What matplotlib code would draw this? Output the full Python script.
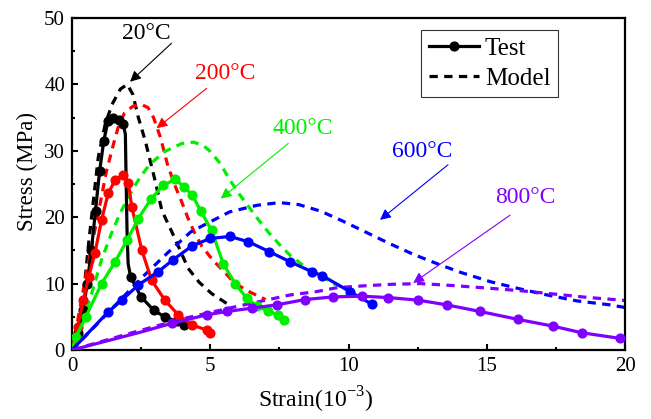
import matplotlib
matplotlib.use("Agg")
import matplotlib.pyplot as plt
from matplotlib.lines import Line2D
from matplotlib.ticker import MultipleLocator

plt.rcParams['font.family'] = ['Liberation Serif', 'DejaVu Serif']
plt.rcParams['mathtext.fontset'] = 'custom'
plt.rcParams['mathtext.rm'] = 'Liberation Serif'

# ---------------- data ----------------
eps_20_t = [0, 0.2, 0.4, 0.55, 0.7, 0.85, 1.0, 1.15, 1.3, 1.5, 1.7, 1.85, 1.93, 1.96, 1.99, 2.03, 2.12, 2.5, 2.95, 3.35, 3.8, 4.05]
sig_20_t = [0, 2.5, 6, 10, 15, 21, 27, 31.5, 34.5, 35, 34.6, 34.0, 32.5, 25, 18, 13, 11, 8, 6, 5, 4.3, 3.8]
eps_20_m = [0, 0.2, 0.35, 0.6, 0.8, 0.95, 1.2, 1.45, 1.75, 2.0, 2.2, 2.4, 2.65, 3.0, 3.25, 3.7, 4.2, 4.6, 5.05, 5.6]
sig_20_m = [0, 2.5, 5.5, 16, 23.5, 29, 34, 37, 39.3, 40, 38.5, 35, 31.5, 25.6, 21, 17, 12.3, 10.2, 8.5, 7.0]

eps_200_t = [0, 0.2, 0.41, 0.6, 0.83, 1.07, 1.31, 1.56, 1.86, 2.04, 2.16, 2.52, 2.88, 3.36, 3.84, 4.33, 4.87, 5.0]
sig_200_t = [0, 3.5, 7.5, 11, 14.6, 19.6, 23.6, 25.6, 26.4, 25.1, 21.6, 15.1, 10.5, 7.5, 5.3, 3.8, 3.0, 2.5]
eps_200_m = [0, 0.23, 0.47, 0.71, 0.95, 1.25, 1.5, 1.7, 1.9, 2.2, 2.5, 2.75, 2.95, 3.2, 3.45, 3.7, 3.95, 4.2, 4.45, 4.7, 5.1, 5.5, 5.9, 6.45, 7.0]
sig_200_m = [0, 5, 10.5, 15.6, 20.6, 27, 31, 34, 35.7, 36.7, 37, 36.5, 35, 32, 28, 25, 22.5, 19.8, 17.5, 15.6, 13.5, 11.8, 10, 8.7, 7.6]

eps_400_t = [0, 0.15, 0.5, 1.07, 1.56, 2.0, 2.4, 2.85, 3.3, 3.73, 4.05, 4.35, 4.65, 5.05, 5.47, 5.9, 6.32, 6.7, 7.1, 7.45, 7.65]
sig_400_t = [0, 2, 5, 10, 13.3, 16.6, 19.8, 22.7, 24.8, 25.7, 24.6, 23.3, 21, 18, 13, 10, 7.8, 6.6, 5.8, 5.3, 4.5]
eps_400_m = [0, 0.35, 0.71, 1.07, 1.43, 1.74, 2.1, 2.46, 2.82, 3.36, 3.97, 4.4, 4.75, 5.0, 5.36, 5.71, 6.08, 6.44, 6.8, 7.13, 7.52, 7.88, 8.37, 8.9, 9.45, 10.05, 10.66]
sig_400_m = [0, 4.0, 8.5, 13.6, 17.6, 20.6, 23.5, 26.0, 28.0, 29.9, 31.1, 31.3, 30.8, 29.9, 28.1, 25.6, 23.3, 21.3, 19.3, 17.6, 15.8, 14.3, 12.7, 11.4, 10.0, 9.0, 7.8]

eps_600_t = [0, 0.5, 1.3, 1.8, 2.4, 3.12, 3.66, 4.35, 5.0, 5.71, 6.38, 7.14, 7.88, 8.67, 9.05, 10.05, 10.84]
sig_600_t = [0, 2.2, 5.7, 7.5, 9.8, 11.8, 13.6, 15.7, 16.8, 17.1, 16.3, 14.8, 13.3, 11.8, 11.2, 8.8, 6.9]
eps_600_m = [0, 1.0, 2.5, 3.5, 4.3, 5.0, 5.7, 6.7, 7.5, 8.2, 9.0, 9.8, 10.65, 11.5, 12.35, 13.2, 14.05, 15.12, 16.0, 17.05, 18.25, 19.45, 20.0]
sig_600_m = [0, 4.3, 10.8, 14.8, 17.8, 19.3, 20.8, 21.8, 22.2, 21.9, 20.9, 19.4, 17.7, 16.0, 14.4, 13.0, 11.7, 10.3, 9.4, 8.4, 7.4, 6.8, 6.4]

eps_800_t = [0, 1.2, 2.4, 3.6, 4.87, 5.6, 6.5, 7.4, 8.43, 9.45, 10.48, 11.44, 12.53, 13.55, 14.76, 16.14, 17.39, 18.43, 19.82]
sig_800_t = [0, 1.3, 2.6, 4.0, 5.3, 5.8, 6.3, 6.8, 7.6, 8.0, 8.1, 7.9, 7.5, 6.8, 5.8, 4.6, 3.6, 2.6, 1.75]
eps_800_m = [0, 2.0, 4.0, 6.0, 7.9, 8.85, 9.6, 10.7, 11.6, 12.6, 13.8, 15.1, 16.3, 17.5, 18.7, 19.9, 20.0]
sig_800_m = [0, 2.4, 4.7, 6.6, 8.3, 8.8, 9.4, 9.7, 9.9, 10.0, 9.7, 9.3, 8.9, 8.4, 7.9, 7.5, 7.45]

labels = ['20°C', '200°C', '400°C', '600°C', '800°C']
colors = ['#000000', '#FF0000', '#00EE00', '#0000FF', '#8000FF']
label_pos = [(2.70, 47.7), (5.53, 41.6), (8.35, 33.4), (12.65, 29.9), (16.41, 23.0)]
arrow_tail = [(3.6, 46.2), (4.87, 39.4), (7.82, 31.1), (13.6, 27.9), (15.84, 20.3)]
arrow_tip = [(2.1, 40.4), (3.06, 33.4), (5.38, 22.8), (11.14, 19.6), (12.34, 10.1)]

tests = [(eps_20_t, sig_20_t), (eps_200_t, sig_200_t), (eps_400_t, sig_400_t),
         (eps_600_t, sig_600_t), (eps_800_t, sig_800_t)]
models = [(eps_20_m, sig_20_m), (eps_200_m, sig_200_m), (eps_400_m, sig_400_m),
          (eps_600_m, sig_600_m), (eps_800_m, sig_800_m)]
mark_idx = [
    [i for i in range(1, len(eps_20_t)) if i not in (12, 13, 14, 15)],
    list(range(1, len(eps_200_t))),
    list(range(1, len(eps_400_t))),
    list(range(2, len(eps_600_t))),
    list(range(3, len(eps_800_t))),
]

# ---------------- figure ----------------
fig = plt.figure(figsize=(6.51, 4.19), dpi=100)
ax = fig.add_axes([72/651, 1-350/419, (625-72)/651, (350-18)/419])

dash = (0, (2.6, 2.0))
lw = 2.3
for (xt, yt), (xm, ym), c, mi in zip(tests, models, colors, mark_idx):
    ax.plot(xm, ym, color=c, lw=lw, linestyle=dash, zorder=2)
    ax.plot(xt, yt, color=c, lw=lw, marker='o', markersize=6.3, markevery=mi, zorder=3)

for lab, c, pos, tail, tip in zip(labels, colors, label_pos, arrow_tail, arrow_tip):
    ax.text(pos[0], pos[1], lab, color=c, fontsize=17, ha='center', va='center')
    ax.annotate('', xy=tip, xytext=tail,
                arrowprops=dict(arrowstyle='-|>', color=c, lw=0.8, mutation_scale=16,
                                shrinkA=0, shrinkB=0))

ax.set_xlim(0, 20)
ax.set_ylim(0, 50)
ax.xaxis.set_major_locator(MultipleLocator(5))
ax.xaxis.set_minor_locator(MultipleLocator(2.5))
ax.yaxis.set_major_locator(MultipleLocator(10))
ax.yaxis.set_minor_locator(MultipleLocator(5))
ax.tick_params(which='both', direction='in', top=False, right=False, width=1.5)
ax.tick_params(which='major', length=4, labelsize=15, pad=5)
ax.tick_params(which='minor', length=2)
for s in ax.spines.values():
    s.set_linewidth(1.6)

ax.set_xlabel('Strain(10$^{-3}$)', fontsize=17)
ax.set_ylabel('Stress (MPa)', fontsize=16.5)
ax.xaxis.set_label_coords((315.8-72)/553, -0.105)
ax.yaxis.set_label_coords(-0.062, 0.537)

handles = [Line2D([0, 0.5, 1], [0, 0, 0], color='black', lw=lw, marker='o',
                  markersize=6.3, markevery=[1]),
           Line2D([], [], color='black', lw=lw, linestyle=dash)]
leg = ax.legend(handles, ['Test', 'Model'], loc='upper left',
                bbox_to_anchor=((421-72)/553, (350-30)/332), borderaxespad=0,
                fontsize=18, frameon=True, fancybox=False, handlelength=2.0,
                handletextpad=0.25, borderpad=0.3, labelspacing=0.3)
leg.get_frame().set_edgecolor('black')
leg.get_frame().set_linewidth(0.8)

fig.savefig('out.png', dpi=100)
